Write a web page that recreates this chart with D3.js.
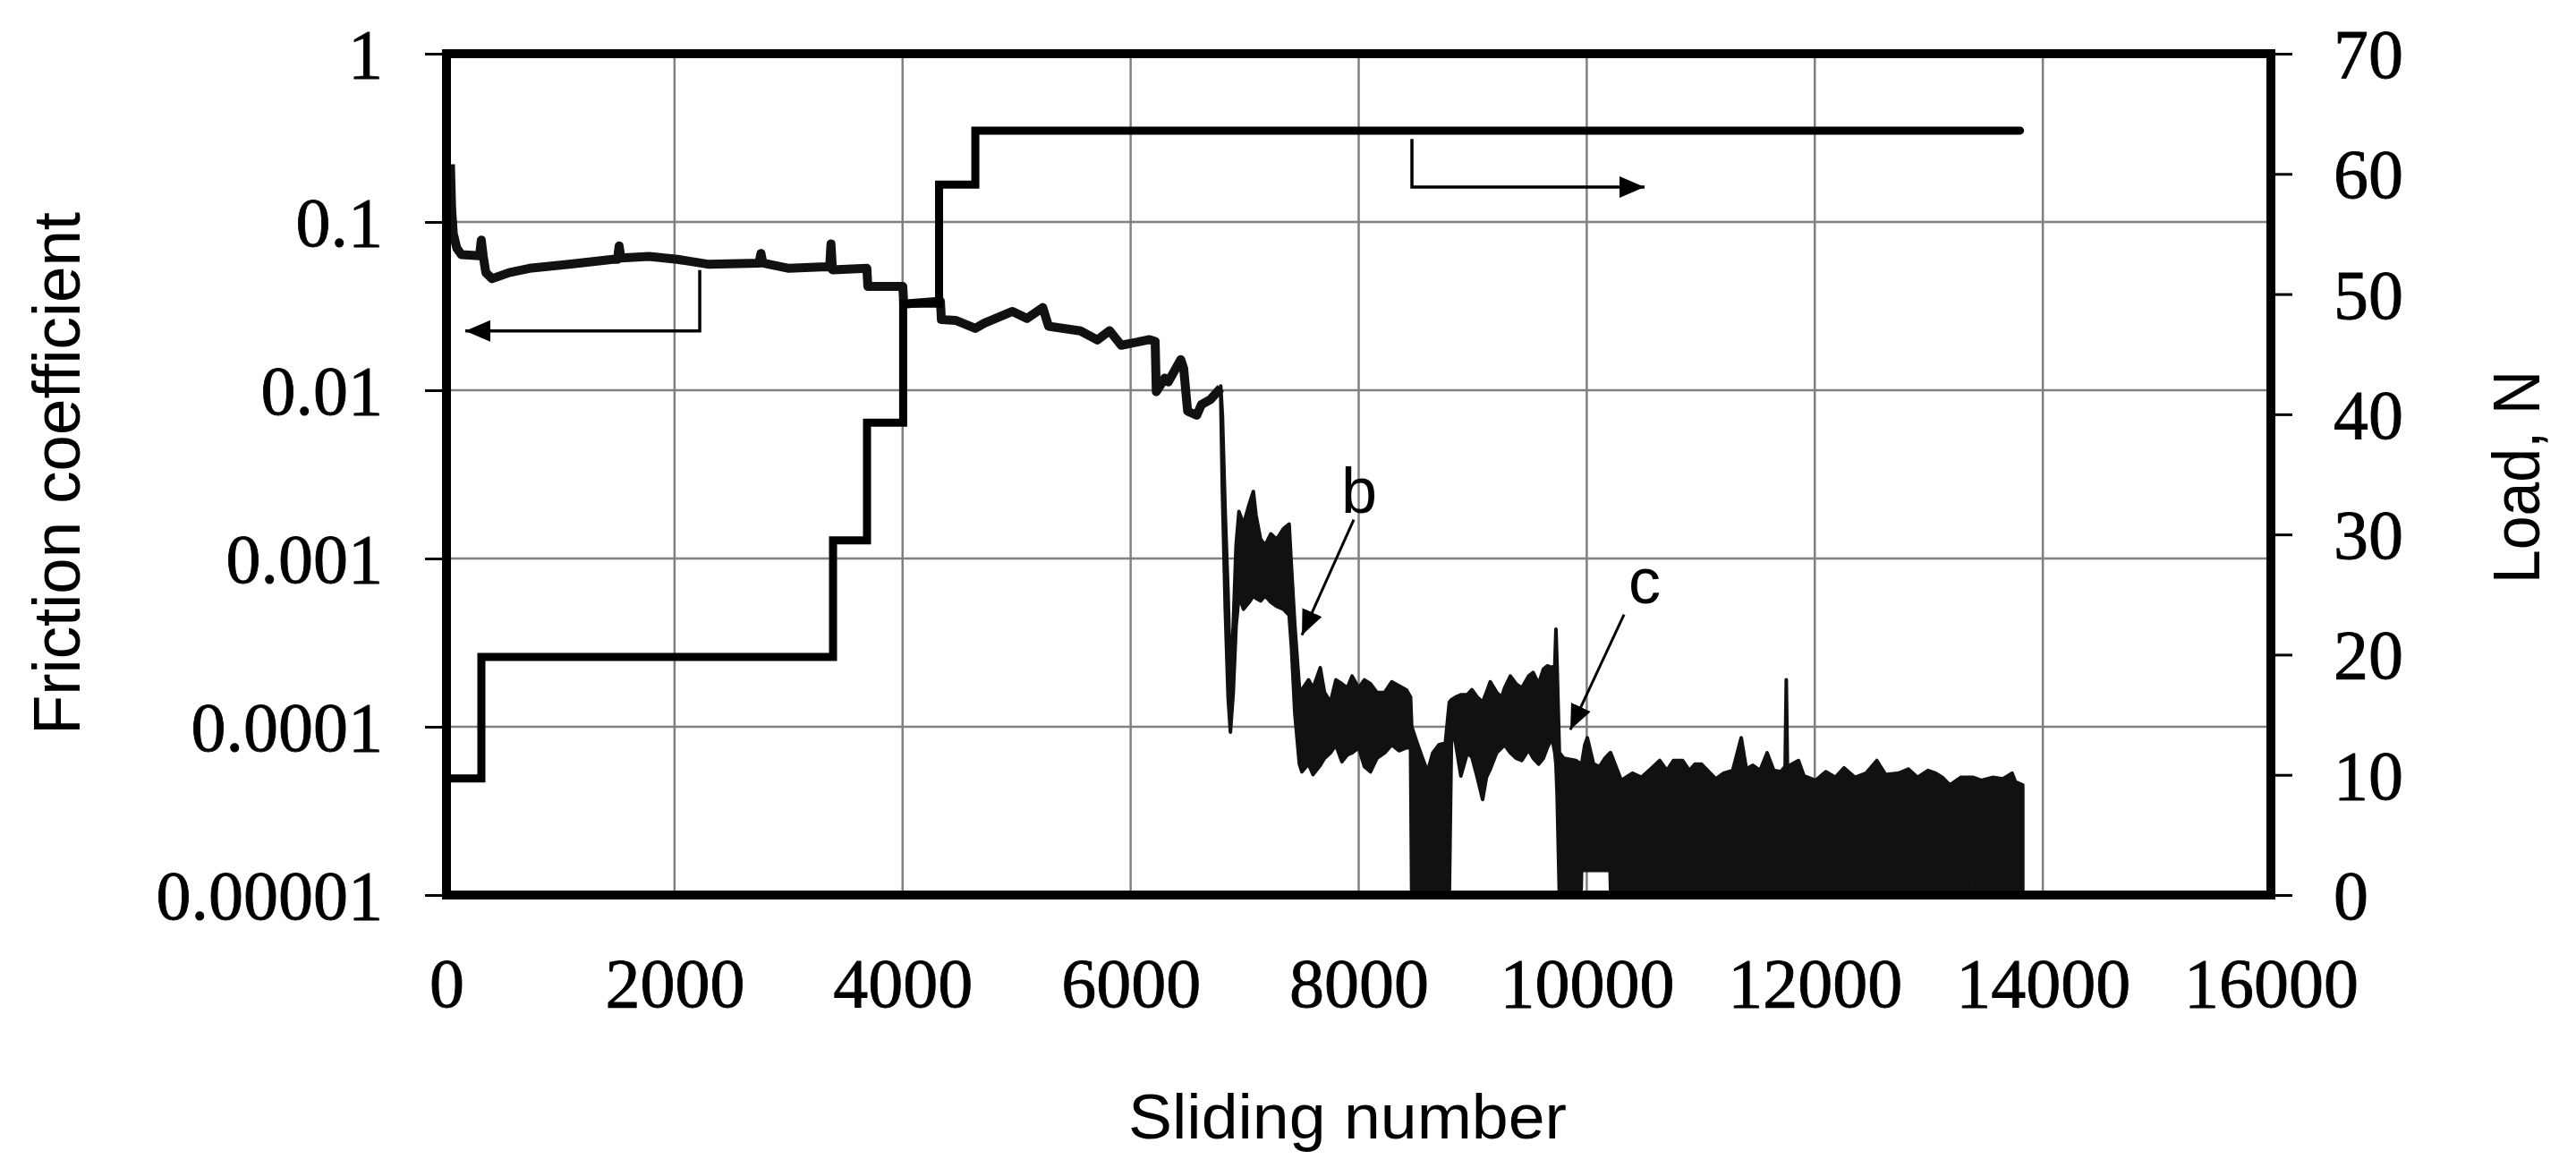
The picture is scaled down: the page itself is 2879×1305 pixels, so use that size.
<!DOCTYPE html>
<html><head><meta charset="utf-8">
<script src="https://cdn.jsdelivr.net/npm/d3@7"></script>
<style>html,body{margin:0;padding:0;background:#fff;} svg{display:block}</style>
</head><body>
<svg id="chart" width="2879" height="1305"></svg>
<script>
// ---------- tick values / labels ----------
const xTicks = [0, 2000, 4000, 6000, 8000, 10000, 12000, 14000, 16000];
const xTickLabels = ["0", "2000", "4000", "6000", "8000", "10000", "12000", "14000", "16000"];
const frictionTicks = [0.00001, 0.0001, 0.001, 0.01, 0.1, 1];
const frictionTickLabels = ["0.00001", "0.0001", "0.001", "0.01", "0.1", "1"];
const loadTicks = [0, 10, 20, 30, 40, 50, 60, 70];
const loadTickLabels = ["0", "10", "20", "30", "40", "50", "60", "70"];

// ---------- load (right axis), step series ----------
const loadN = [0, 0, 306, 3390, 3688, 4005, 4320, 4638, 13800];
const loadV = [0, 9.7, 19.8, 29.5, 39.3, 49.2, 59.1, 63.6, 63.6];

// ---------- friction coefficient, single-line part ----------
const fricLineN = [35, 45, 60, 90, 130, 290, 305, 322, 345, 400, 549, 727, 1075, 1460, 1500, 1514, 1530,
  1777, 2023, 2303, 2740, 2758, 2775, 3004, 3284, 3360, 3372, 3385, 3687, 3695, 4002, 4010, 4332, 4340,
  4465, 4638, 4716, 4964, 5090, 5230, 5280, 5560, 5709, 5815, 5918, 6166, 6215, 6225, 6300, 6330, 6440,
  6465, 6500, 6580, 6620, 6700, 6790];
const fricLineV = [0.22, 0.12, 0.085, 0.07, 0.064, 0.063, 0.078, 0.063, 0.05, 0.046, 0.05, 0.053, 0.056, 0.06, 0.06, 0.072, 0.061,
  0.0624, 0.06, 0.056, 0.057, 0.065, 0.057, 0.053, 0.054, 0.054, 0.074, 0.052, 0.053, 0.0414, 0.0414, 0.0325, 0.0338, 0.0263,
  0.026, 0.0233, 0.025, 0.0294, 0.0267, 0.031, 0.024, 0.0225, 0.0199, 0.0226, 0.0185, 0.02, 0.0195, 0.0098, 0.0118, 0.0112, 0.0152,
  0.0135, 0.0075, 0.0071, 0.0082, 0.0088, 0.0103];

// ---------- friction coefficient, dense oscillating part (upper / lower envelope) ----------
const bandN = [6790, 6805, 6830, 6855, 6875, 6900, 6925, 6950, 6990, 7040, 7076, 7100, 7140, 7180, 7230, 7280, 7340, 7390, 7410, 7440, 7480,
  7502, 7560, 7600, 7663, 7700, 7753, 7800, 7853, 7900, 7942, 8000, 8050, 8103, 8160, 8228, 8290, 8353, 8420, 8455,
  8465, 8510, 8560, 8604, 8650, 8703, 8760, 8795, 8815, 8850, 8896, 8953, 8993, 9040, 9087, 9120, 9154, 9210, 9254,
  9280, 9330, 9380, 9430, 9490, 9530, 9578, 9620, 9654, 9696, 9720, 9730, 9740, 9760, 9800, 9904, 9950, 9955, 9983,
  10005, 10060, 10112, 10160, 10205, 10210, 10303, 10400, 10480, 10560, 10640, 10703, 10760, 10840, 10900, 10950,
  10955, 10965, 10970, 11005, 11131, 11200, 11280, 11355, 11400, 11457, 11520, 11582, 11640, 11700, 11740, 11750,
  11760, 11857, 11905, 12006, 12097, 12180, 12257, 12351, 12450, 12544, 12620, 12737, 12820, 12900, 12992, 13060,
  13120, 13184, 13280, 13365, 13370, 13385, 13390, 13460, 13560, 13650, 13730, 13760, 13824];
const bandHi = [0.0106, 0.007, 0.0018, 0.0006, 0.00018, 0.0004, 0.0012, 0.0019, 0.0016, 0.0021, 0.0025, 0.0018, 0.0013, 0.0012, 0.0014, 0.0013, 0.0015, 0.0016, 0.0009, 0.0004, 0.00017,
  0.000166, 0.00019, 0.00017, 0.000224, 0.00016, 0.00014, 0.00019, 0.00018, 0.00017, 0.0002, 0.00017, 0.00019, 0.00018, 0.00016, 0.00016, 0.000185, 0.000175, 0.000165, 0.00015,
  0.0001, 0.000081, 0.000065, 0.000054, 0.00007, 0.000078, 0.00008, 0.00014, 0.000145, 0.00015, 0.000155, 0.000155, 0.000166, 0.00015, 0.00014, 0.00016, 0.000185, 0.00016, 0.00015,
  0.00017, 0.0002, 0.00018, 0.00017, 0.0002, 0.00021, 0.00018, 0.00022, 0.00023, 0.000225, 0.00023, 0.00038, 0.00023, 0.00007, 0.000065, 0.000063, 0.00006, 0.00006, 0.000078,
  0.000086, 0.00006, 0.000058, 0.000065, 0.00007, 0.00007, 0.000048, 0.000053, 0.00005, 0.000056, 0.000063, 0.000055, 0.000063, 0.000063, 0.000055, 0.00006,
  0.00006, 0.00006, 0.00006, 0.00006, 0.000049, 0.000053, 0.000055, 0.000086, 0.000056, 0.000059, 0.000055, 0.00007, 0.000055, 0.000054, 0.000058, 0.00019,
  0.000058, 0.000063, 0.000051, 0.000048, 0.000054, 0.00005, 0.000057, 0.00005, 0.000053, 0.000063, 0.000052, 0.000053, 0.000056, 0.00005, 0.000055, 0.000053,
  0.00005, 0.000045, 0.00005, 0.00005, 0.00005, 0.00005, 0.00005, 0.000048, 0.00005, 0.000049, 0.000053, 0.000047, 0.000045];
const bandLo = [0.0096, 0.0025, 0.0005, 0.00015, 0.000093, 0.00016, 0.0004, 0.0006, 0.0005, 0.00055, 0.0006, 0.00058, 0.00056, 0.0006, 0.00055, 0.00052, 0.0005, 0.00046, 0.0003, 0.00012, 0.00006,
  0.000054, 0.00006, 0.000052, 0.000059, 0.000065, 0.00007, 0.000078, 0.000062, 0.000068, 0.00007, 0.000075, 0.000058, 0.000054, 0.000065, 0.00007, 0.000078, 0.000072, 0.000075, 0.000075,
  0.00001, 0.00001, 0.00001, 0.00001, 0.00001, 0.00001, 0.00001, 0.00001, 0.0001, 0.00008, 0.000051, 0.00007, 0.000066, 0.00005, 0.000037, 0.00005, 0.000056, 0.00007, 0.000075,
  0.000078, 0.00007, 0.000065, 0.000063, 0.000073, 0.000065, 0.00006, 0.000065, 0.000075, 0.000086, 0.00007, 0.00006, 0.00004, 0.00001, 0.00001, 0.00001, 0.00001, 0.000014, 0.000014,
  0.000014, 0.000014, 0.000014, 0.000014, 0.000014, 0.00001, 0.00001, 0.00001, 0.00001, 0.00001, 0.00001, 0.00001, 0.00001, 0.00001, 0.00001, 0.00001,
  0.000019, 0.000019, 0.00001, 0.00001, 0.00001, 0.00001, 0.00001, 0.00001, 0.00001, 0.00001, 0.00001, 0.00001, 0.00001, 0.00001, 0.00001, 0.00001,
  0.00001, 0.00001, 0.00001, 0.00001, 0.00001, 0.00001, 0.00001, 0.00001, 0.00001, 0.00001, 0.00001, 0.00001, 0.00001, 0.00001, 0.00001, 0.00001,
  0.00001, 0.00001, 0.00001, 0.00001, 0.000015, 0.000015, 0.00001, 0.00001, 0.00001, 0.00001, 0.00001, 0.00001, 0.00001];

// ---------- annotations (data coordinates) ----------
const frictionArrow = {n: [2221, 2221, 165], v: [0.0518, 0.0225, 0.0225]};
const loadArrow = {n: [8467, 8467, 10507], v: [62.9, 58.9, 58.9]};
const noteB = {label: "b", ln: 8004, lv: 0.00187, from: [7957, 0.0017], to: [7502, 0.00035]};
const noteC = {label: "c", ln: 10507, lv: 0.00054, from: [10327, 0.000465], to: [9856, 0.000096]};

// ---------- layout ----------
const W = 2879, H = 1305;
const L = 499, R = 2538, T = 60, B = 1000;
const svg = d3.select("#chart");
svg.append("rect").attr("width", W).attr("height", H).attr("fill", "#fff");

const x = d3.scaleLinear().domain([0, 16000]).range([L, R]);
const yF = d3.scaleLog().domain([0.00001, 1]).range([B, T]);
const yL = d3.scaleLinear().domain([0, 70]).range([B, T]);

const defs = svg.append("defs");
defs.append("clipPath").attr("id", "clip")
  .append("rect").attr("x", L).attr("y", T).attr("width", R - L).attr("height", B - T);

// grid
const grid = svg.append("g").attr("stroke", "#808080").attr("stroke-width", 2.5);
grid.selectAll("line.h").data(frictionTicks.slice(1, -1)).join("line")
  .attr("x1", L).attr("x2", R).attr("y1", d => yF(d)).attr("y2", d => yF(d));
grid.selectAll("line.v").data(xTicks.slice(1, -1)).join("line")
  .attr("y1", T).attr("y2", B).attr("x1", d => x(d)).attr("x2", d => x(d));

const plot = svg.append("g").attr("clip-path", "url(#clip)");

// dense band
const bandData = bandN.map((n, i) => ({n, hi: bandHi[i], lo: bandLo[i]}));
plot.append("path").datum(bandData)
  .attr("d", d3.area().x(d => x(d.n)).y0(d => yF(d.lo)).y1(d => yF(d.hi)))
  .attr("fill", "#111").attr("stroke", "#111").attr("stroke-width", 4).attr("stroke-linejoin", "round");

// friction line
const fricData = fricLineN.map((n, i) => ({n, v: fricLineV[i]}));
plot.append("path").datum(fricData)
  .attr("d", d3.line().x(d => x(d.n)).y(d => yF(d.v)))
  .attr("fill", "none").attr("stroke", "#111").attr("stroke-width", 10).attr("stroke-linejoin", "round");

// load line
const loadData = loadN.map((n, i) => ({n, v: loadV[i]}));
svg.append("path").datum(loadData)
  .attr("d", d3.line().curve(d3.curveStepAfter).x(d => x(d.n)).y(d => yL(d.v)))
  .attr("fill", "none").attr("stroke", "#000").attr("stroke-width", 9)
  .attr("stroke-linecap", "round").attr("stroke-linejoin", "miter");

// arrow marker
defs.append("marker").attr("id", "arr").attr("markerUnits", "userSpaceOnUse")
  .attr("markerWidth", 30).attr("markerHeight", 26).attr("refX", 28).attr("refY", 12)
  .attr("orient", "auto")
  .append("path").attr("d", "M0,0 L28,12 L0,24 Z").attr("fill", "#000");

function polyArrow(a, ys) {
  const pts = a.n.map((n, i) => [x(n), ys(a.v[i])]);
  svg.append("path").attr("d", d3.line()(pts)).attr("fill", "none")
    .attr("stroke", "#000").attr("stroke-width", 3.5).attr("marker-end", "url(#arr)");
}
polyArrow(frictionArrow, yF);
polyArrow(loadArrow, yL);

function note(o) {
  svg.append("text").attr("x", x(o.ln)).attr("y", yF(o.lv)).attr("text-anchor", "middle")
    .attr("font-family", "Liberation Sans, Arial, sans-serif").attr("font-size", 72).text(o.label);
  svg.append("line").attr("x1", x(o.from[0])).attr("y1", yF(o.from[1]))
    .attr("x2", x(o.to[0])).attr("y2", yF(o.to[1]))
    .attr("stroke", "#000").attr("stroke-width", 3).attr("marker-end", "url(#arr)");
}
note(noteB);
note(noteC);

// frame
svg.append("rect").attr("x", L).attr("y", T).attr("width", R - L).attr("height", B - T)
  .attr("fill", "none").attr("stroke", "#000").attr("stroke-width", 10);

// axes
const serif = "Liberation Serif, Times New Roman, serif";
const axL = svg.append("g").attr("transform", `translate(${L},0)`)
  .call(d3.axisLeft(yF).tickValues(frictionTicks).tickFormat((d, i) => frictionTickLabels[i]).tickSize(24).tickPadding(47));
const axR = svg.append("g").attr("transform", `translate(${R},0)`)
  .call(d3.axisRight(yL).tickValues(loadTicks).tickFormat((d, i) => loadTickLabels[i]).tickSize(24).tickPadding(46));
const axB = svg.append("g").attr("transform", `translate(0,${B})`)
  .call(d3.axisBottom(x).tickValues(xTicks).tickFormat((d, i) => xTickLabels[i]).tickSize(0));
[axL, axR, axB].forEach(g => {
  g.select(".domain").remove();
  g.selectAll(".tick line").attr("stroke", "#000").attr("stroke-width", 3);
  g.selectAll(".tick text").attr("font-family", serif).attr("font-size", 78).attr("fill", "#000")
    .attr("stroke", "#000").attr("stroke-width", 0.8);
});
axL.selectAll(".tick text").attr("dy", "0.34em");
axR.selectAll(".tick text").attr("dy", "0.34em");
axB.selectAll(".tick text").attr("y", 125).attr("dy", 0);

// axis titles
const sans = "Liberation Sans, Arial, sans-serif";
svg.append("text").attr("transform", "translate(89,529) rotate(-90)").attr("text-anchor", "middle")
  .attr("font-family", sans).attr("font-size", 74)
  .attr("textLength", 584).attr("lengthAdjust", "spacingAndGlyphs").text("Friction coefficient");
svg.append("text").attr("transform", "translate(2838,533) rotate(-90)").attr("text-anchor", "middle")
  .attr("font-family", sans).attr("font-size", 74)
  .attr("textLength", 238).attr("lengthAdjust", "spacingAndGlyphs").text("Load, N");
svg.append("text").attr("x", 1506).attr("y", 1272).attr("text-anchor", "middle")
  .attr("font-family", sans).attr("font-size", 70)
  .attr("textLength", 490).attr("lengthAdjust", "spacingAndGlyphs").text("Sliding number");
</script>
</body></html>
